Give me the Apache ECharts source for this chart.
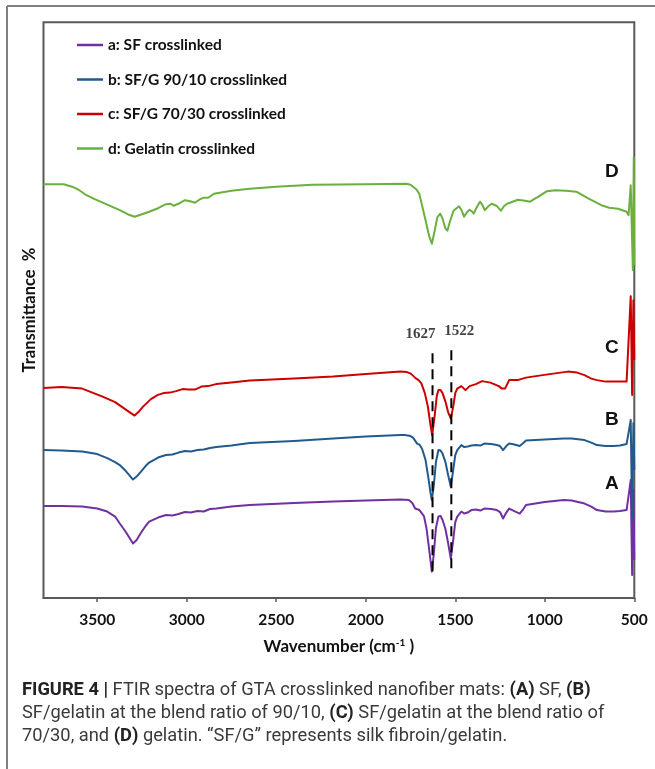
<!DOCTYPE html>
<html>
<head>
<meta charset="utf-8">
<script src="https://cdn.jsdelivr.net/npm/echarts@6/dist/echarts.min.js"></script>
<style>
  html, body { margin: 0; padding: 0; background: #fff; }
  #chart { width: 655px; height: 769px; }
</style>
</head>
<body>
<div id="chart"></div>
<script>
// FTIR spectra (offset transmittance, arbitrary units) of GTA crosslinked mats
const wavenumberA = [3800,3700,3584,3500,3444,3400,3374,3340,3300,3280,3258,3230,3210,3160,3116,3080,3046,3010,2976,2940,2905,2870,2835,2750,2648,2400,2182,2000,1806,1759,1740,1724,1700,1689,1675,1660,1645,1631,1620,1608,1594,1582,1571,1555,1540,1525,1512,1500,1489,1466,1450,1431,1410,1385,1360,1338,1300,1268,1250,1233,1215,1199,1170,1140,1120,1105,1000,894,850,778,740,709,660,615,580,543,532,520,512,505,500];
const transmittanceA = [18.4,18.4,18.3,17.9,17.3,16.3,14.9,13.2,10.9,11.6,12.9,14.4,15.3,16.1,16.6,16.5,16.8,17.2,17.1,17.4,17.3,17.8,17.9,18.3,18.6,19.0,19.3,19.5,19.7,19.6,19.0,17.9,17.6,17.3,16.4,13.8,9.5,5.3,8.8,14.0,16.3,16.4,15.6,13.8,11.0,7.9,11.5,15.2,16.3,17.3,16.9,17.1,17.6,17.7,17.5,17.9,17.8,17.6,17.2,15.9,17.1,17.9,17.4,16.9,17.8,18.6,19.2,19.6,19.5,18.9,18.3,17.6,17.3,17.3,17.4,17.6,17.2,23.6,4.6,21.6,7.6];

const wavenumberB = [3800,3700,3584,3500,3444,3400,3374,3340,3300,3280,3258,3230,3210,3160,3116,3080,3046,3010,2976,2940,2905,2870,2835,2750,2648,2400,2182,2000,1806,1782,1750,1736,1713,1700,1685,1666,1650,1638,1631,1620,1608,1594,1582,1571,1555,1540,1525,1512,1500,1489,1466,1450,1431,1410,1385,1360,1338,1300,1268,1250,1233,1215,1199,1170,1140,1120,1105,1000,894,850,778,740,709,660,615,580,543,532,520,512,505,500];
const transmittanceB = [29.6,29.5,29.3,28.8,28.0,27.2,26.6,25.4,23.7,24.3,25.2,26.4,27.1,28.1,28.6,28.7,29.1,29.4,29.3,29.6,29.7,30.0,30.2,30.5,31.0,31.4,31.9,32.3,32.6,32.6,32.4,32.1,30.9,30.7,29.8,27.6,24.0,21.0,19.6,22.5,27.2,29.6,29.5,28.9,27.2,24.6,22.3,25.5,28.6,29.6,30.6,30.2,30.3,30.5,30.6,30.5,30.9,30.8,30.6,30.4,29.6,30.4,30.9,30.7,30.4,31.0,31.5,31.7,31.9,31.9,31.6,31.1,30.6,30.4,30.4,30.5,30.8,31.2,35.6,15.6,35.0,25.6];

const wavenumberC = [3800,3700,3584,3470,3400,3352,3320,3291,3270,3244,3200,3164,3130,3094,3060,3023,2990,2954,2918,2880,2836,2750,2648,2400,2182,2000,1806,1770,1748,1722,1705,1690,1670,1653,1640,1629,1615,1603,1594,1582,1571,1555,1540,1525,1512,1500,1489,1466,1443,1420,1385,1350,1304,1257,1240,1222,1199,1152,1105,1012,872,820,778,740,709,660,615,543,532,520,512,505,500];
const transmittanceC = [42.0,42.2,41.9,40.3,39.2,38.0,37.2,36.5,37.2,38.3,39.8,40.6,41.0,41.1,41.4,41.8,41.7,41.7,42.3,42.4,42.8,43.1,43.5,43.9,44.3,44.8,45.3,45.2,44.9,44.0,43.6,43.0,41.0,38.3,35.0,32.6,36.5,40.5,41.6,41.6,41.0,39.3,37.2,35.9,38.2,41.0,41.9,42.4,41.6,42.4,42.8,43.4,43.1,42.4,41.9,41.9,43.6,43.6,44.1,44.6,45.3,45.1,44.6,43.9,43.6,43.3,43.3,43.3,43.6,60.4,40.6,59.6,47.6];

const wavenumberD = [3800,3687,3640,3600,3560,3514,3450,3374,3330,3291,3250,3210,3160,3116,3090,3074,3040,3010,2980,2954,2930,2905,2880,2848,2750,2648,2500,2299,2000,1773,1750,1736,1718,1701,1685,1666,1645,1631,1618,1600,1584,1570,1556,1544,1530,1510,1479,1465,1451,1435,1420,1408,1397,1380,1362,1348,1334,1315,1297,1270,1245,1228,1210,1180,1151,1110,1081,1060,1035,988,941,880,824,760,684,640,591,543,532,520,508,503,500];
const transmittanceD = [82.8,82.8,82.3,81.6,80.6,79.8,78.8,77.6,76.8,76.3,76.8,77.3,78.0,78.8,78.9,78.5,79.0,79.6,79.4,79.1,79.7,80.1,80.1,80.9,81.5,81.9,82.3,82.7,82.8,82.9,82.7,82.3,81.8,80.9,78.5,75.6,72.3,70.9,73.0,76.2,76.9,75.8,74.0,73.5,75.3,77.5,78.4,77.6,76.3,77.2,77.7,77.4,76.9,78.2,79.3,78.6,77.6,78.4,78.9,78.5,77.5,78.4,78.9,79.3,79.7,79.5,79.3,79.8,80.3,81.4,81.6,81.5,81.3,80.0,78.6,78.1,77.9,77.3,76.6,82.6,65.6,88.2,66.6];

const seriesNames = ['a: SF crosslinked', 'b: SF/G 90/10 crosslinked', 'c: SF/G 70/30 crosslinked', 'd: Gelatin crosslinked'];
const seriesColors = ['#7030A0', '#225A8E', '#CC0000', '#6BAF3E'];
const curveLetters = ['A', 'B', 'C', 'D'];

// amide I / amide II marker positions (cm-1) and their vertical extent
const amideBands = [1627, 1522];
const bandTop = [49, 49.6];
const bandBottom = [5, 5.6];

const xTicks = [500, 1000, 1500, 2000, 2500, 3000, 3500];

const captionLines = [
  '{b|FIGURE 4 |} FTIR spectra of GTA crosslinked nanofiber mats: {b|(A)} SF, {b|(B)}',
  'SF/gelatin at the blend ratio of 90/10, {b|(C)} SF/gelatin at the blend ratio of',
  '70/30, and {b|(D)} gelatin. \u201cSF/G\u201d represents silk fibroin/gelatin.'
];

const zip = (xs, ys) => xs.map((x, i) => [x, ys[i]]);
const spectra = [
  zip(wavenumberA, transmittanceA),
  zip(wavenumberB, transmittanceB),
  zip(wavenumberC, transmittanceC),
  zip(wavenumberD, transmittanceD)
];

const labelFont = 'Lato, "Open Sans", sans-serif';

const chart = echarts.init(document.getElementById('chart'), null, { renderer: 'canvas' });

const lineSeries = spectra.map((data, i) => ({
  name: seriesNames[i],
  type: 'line',
  data: data,
  showSymbol: false,
  symbol: 'none',
  smooth: false,
  lineStyle: { color: seriesColors[i], width: 2, join: 'round' },
  itemStyle: { color: seriesColors[i] },
  emphasis: { disabled: true },
  z: 3
}));

const bandSeries = amideBands.map((wn, i) => ({
  name: 'band' + wn,
  type: 'line',
  data: [[wn, bandTop[i]], [wn, bandBottom[i]]],
  symbol: 'none',
  lineStyle: { color: '#000', width: 2, type: [10, 6] },
  emphasis: { disabled: true },
  silent: true,
  z: 5
}));

// band wavenumbers written above the dashed markers
const bandLabels = {
  type: 'scatter',
  data: amideBands.map((wn, i) => ({
    value: [wn, bandTop[i]],
    label: { offset: [i === 0 ? -12 : 8, -7] }
  })),
  symbolSize: 0,
  silent: true,
  label: {
    show: true, position: 'top',
    formatter: p => String(p.value[0]),
    fontFamily: '"Liberation Serif", "Times New Roman", serif',
    fontWeight: 'bold', fontSize: 15, color: '#111'
  },
  z: 6
};

const graphics = [
  { type: 'line', shape: { x1: 7, y1: 6, x2: 7, y2: 769 }, style: { stroke: '#808080', lineWidth: 2 } },
  { type: 'line', shape: { x1: 7, y1: 6, x2: 655, y2: 6 }, style: { stroke: '#808080', lineWidth: 2 } }
];

// curve letters placed just inside the right edge
const letterY = [484, 420, 348, 172];
curveLetters.forEach((t, i) => {
  graphics.push({
    type: 'text', left: 605, top: letterY[i] - 10,
    style: { text: t, font: 'bold 19px "Liberation Sans", Arial, sans-serif', fill: '#111' }
  });
});

const captionY = [691, 714, 737];
captionLines.forEach((t, i) => {
  graphics.push({
    type: 'text', left: 22, top: captionY[i] - 10,
    style: {
      text: t,
      fontFamily: 'Roboto, sans-serif', fontSize: 18.3, fill: '#3a3a3a',
      rich: { b: { fontFamily: 'Roboto, sans-serif', fontSize: 18.3, fontWeight: 'bold', fill: '#222' } }
    }
  });
});

chart.setOption({
  animation: false,
  backgroundColor: '#fff',
  grid: {
    left: 43.5, right: 20.7, top: 22.3, bottom: 171,
    show: true, borderColor: '#595959', borderWidth: 2, backgroundColor: 'transparent'
  },
  legend: {
    orient: 'vertical', left: 77, top: 37, padding: 0,
    data: seriesNames,
    icon: 'rect', itemWidth: 26, itemHeight: 2.5, itemGap: 18.5,
    textStyle: { fontFamily: labelFont, fontWeight: 'bold', fontSize: 15.5, lineHeight: 14, color: '#111' },
    selectedMode: false
  },
  xAxis: {
    type: 'value', min: 500, max: 3800, interval: 500, inverse: true,
    name: 'Wavenumber (cm{sup|-1} )', nameLocation: 'middle', nameGap: 40,
    nameTextStyle: {
      fontFamily: labelFont, fontWeight: 'bold', fontSize: 17, color: '#111',
      rich: { sup: { fontFamily: labelFont, fontWeight: 'bold', fontSize: 10, color: '#111', verticalAlign: 'top', padding: [0, 0, 8, 0] } }
    },
    axisLine: { show: true, lineStyle: { color: '#595959', width: 2 } },
    axisTick: { show: true, length: 4, inside: false, customValues: xTicks, lineStyle: { color: '#595959', width: 1.5 } },
    axisLabel: {
      customValues: xTicks, margin: 14, formatter: v => String(v),
      fontFamily: labelFont, fontWeight: 'bold', fontSize: 15.5, color: '#111'
    },
    splitLine: { show: false }
  },
  yAxis: {
    type: 'value', min: 0, max: 115.2,
    name: 'Transmittance  %', nameLocation: 'middle', nameGap: 5, nameRotate: 90,
    nameTextStyle: { fontFamily: labelFont, fontWeight: 'bold', fontSize: 16.5, color: '#111' },
    axisLine: { show: false }, axisTick: { show: false }, axisLabel: { show: false }, splitLine: { show: false }
  },
  series: lineSeries.concat(bandSeries, [bandLabels]),
  graphic: graphics
});
</script>
</body>
</html>
